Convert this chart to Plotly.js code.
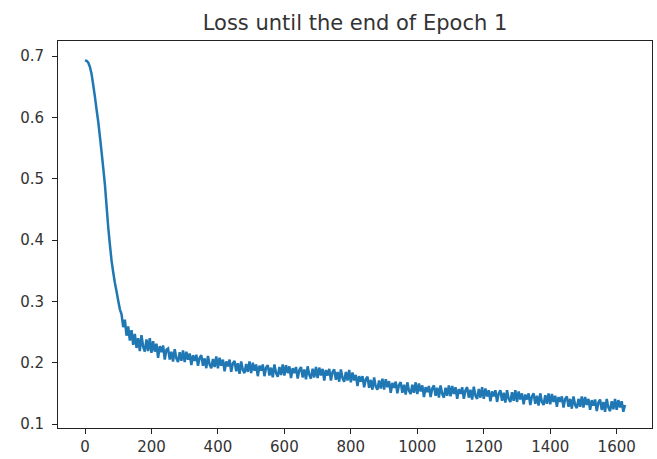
<!DOCTYPE html>
<html>
<head>
<meta charset="utf-8">
<script src="https://cdn.plot.ly/plotly-3.0.1.min.js"></script>
<style>html,body{margin:0;padding:0;background:#fff;}#chart{width:657px;height:459px;}</style>
</head>
<body>
<div id="chart"></div>
<script>
// Loss recorded every 5 training steps (step = index * STEP)
const STEP = 5;
const lossValues = [
0.693,0.692,0.689,0.682,0.670,0.652,0.633,0.612,0.592,0.568,
0.543,0.517,0.490,0.455,0.420,0.392,0.366,0.347,0.330,0.316,
0.301,0.287,0.279,0.258,0.270,0.244,0.259,0.236,0.253,0.229,
0.247,0.224,0.240,0.219,0.245,0.226,0.218,0.238,0.219,0.240,
0.216,0.235,0.218,0.231,0.208,0.227,0.217,0.228,0.205,0.221,
0.223,0.205,0.218,0.202,0.222,0.207,0.201,0.217,0.203,0.220,
0.201,0.218,0.205,0.215,0.196,0.212,0.203,0.213,0.195,0.208,
0.212,0.195,0.207,0.191,0.211,0.197,0.191,0.206,0.193,0.210,
0.191,0.208,0.195,0.205,0.186,0.202,0.194,0.205,0.185,0.199,
0.203,0.186,0.199,0.182,0.202,0.188,0.183,0.198,0.185,0.202,
0.183,0.200,0.187,0.197,0.178,0.195,0.187,0.197,0.178,0.192,
0.196,0.179,0.192,0.176,0.197,0.183,0.177,0.193,0.180,0.197,
0.179,0.196,0.183,0.194,0.175,0.191,0.183,0.193,0.174,0.188,
0.193,0.176,0.189,0.173,0.194,0.180,0.174,0.190,0.176,0.193,
0.175,0.192,0.179,0.190,0.171,0.188,0.179,0.190,0.171,0.185,
0.189,0.172,0.185,0.169,0.189,0.175,0.169,0.185,0.171,0.188,
0.168,0.184,0.171,0.180,0.162,0.178,0.169,0.178,0.160,0.173,
0.177,0.159,0.172,0.156,0.176,0.161,0.156,0.171,0.158,0.174,
0.156,0.173,0.160,0.170,0.151,0.167,0.159,0.169,0.150,0.164,
0.168,0.151,0.164,0.148,0.168,0.154,0.149,0.164,0.151,0.168,
0.149,0.166,0.153,0.163,0.144,0.160,0.152,0.162,0.144,0.158,
0.163,0.146,0.159,0.143,0.163,0.149,0.143,0.159,0.146,0.163,
0.145,0.162,0.149,0.160,0.141,0.157,0.149,0.160,0.141,0.155,
0.160,0.143,0.156,0.140,0.161,0.146,0.141,0.157,0.143,0.160,
0.141,0.158,0.145,0.155,0.137,0.153,0.145,0.155,0.136,0.150,
0.155,0.138,0.151,0.135,0.155,0.141,0.136,0.152,0.138,0.155,
0.136,0.153,0.140,0.150,0.132,0.148,0.140,0.150,0.131,0.145,
0.150,0.133,0.146,0.130,0.150,0.136,0.131,0.147,0.133,0.150,
0.132,0.149,0.136,0.146,0.128,0.144,0.136,0.145,0.127,0.141,
0.145,0.128,0.141,0.125,0.145,0.131,0.126,0.141,0.128,0.145,
0.127,0.144,0.131,0.141,0.123,0.139,0.130,0.140,0.121,0.135,
0.140,0.123,0.136,0.120,0.141,0.127,0.121,0.137,0.124,0.141,
0.123,0.139,0.127,0.137,0.120,0.131
];
const xTickVals = [0, 200, 400, 600, 800, 1000, 1200, 1400, 1600];
const xTickText = ["0", "200", "400", "600", "800", "1000", "1200", "1400", "1600"];
const yTickVals = [0.1, 0.2, 0.3, 0.4, 0.5, 0.6, 0.7];
const yTickText = ["0.1", "0.2", "0.3", "0.4", "0.5", "0.6", "0.7"];
const chartTitle = "Loss until the end of Epoch 1";

const steps = lossValues.map((v, i) => i * STEP);

const trace = {
  x: steps,
  y: lossValues,
  type: 'scatter',
  mode: 'lines',
  line: {color: '#1f77b4', width: 2.5, simplify: false},
  hoverinfo: 'skip'
};

const axisCommon = {
  showgrid: false,
  zeroline: false,
  showline: true,
  mirror: true,
  linecolor: '#222',
  linewidth: 1,
  ticks: 'outside',
  ticklen: 5,
  tickwidth: 1,
  tickcolor: '#222',
  tickfont: {family: 'DejaVu Sans', size: 15, color: '#333'}
};

const layout = {
  width: 657,
  height: 459,
  margin: {l: 58, r: 5, t: 41, b: 31},
  paper_bgcolor: '#fff',
  plot_bgcolor: '#fff',
  showlegend: false,
  title: {
    text: chartTitle,
    font: {family: 'DejaVu Sans', size: 21, color: '#333'},
    x: 0.5, xref: 'paper', xanchor: 'center',
    y: 1 - 23 / 459, yref: 'container', yanchor: 'middle'
  },
  xaxis: Object.assign({}, axisCommon, {
    range: [-81.25, 1706.25],
    ticklabelstandoff: 0,
    tickmode: 'array', tickvals: xTickVals, ticktext: xTickText
  }),
  yaxis: Object.assign({}, axisCommon, {
    range: [0.0935, 0.7245],
    ticklabelstandoff: 5,
    tickmode: 'array', tickvals: yTickVals, ticktext: yTickText
  })
};

Plotly.newPlot('chart', [trace], layout, {staticPlot: true, displayModeBar: false});
</script>
</body>
</html>
